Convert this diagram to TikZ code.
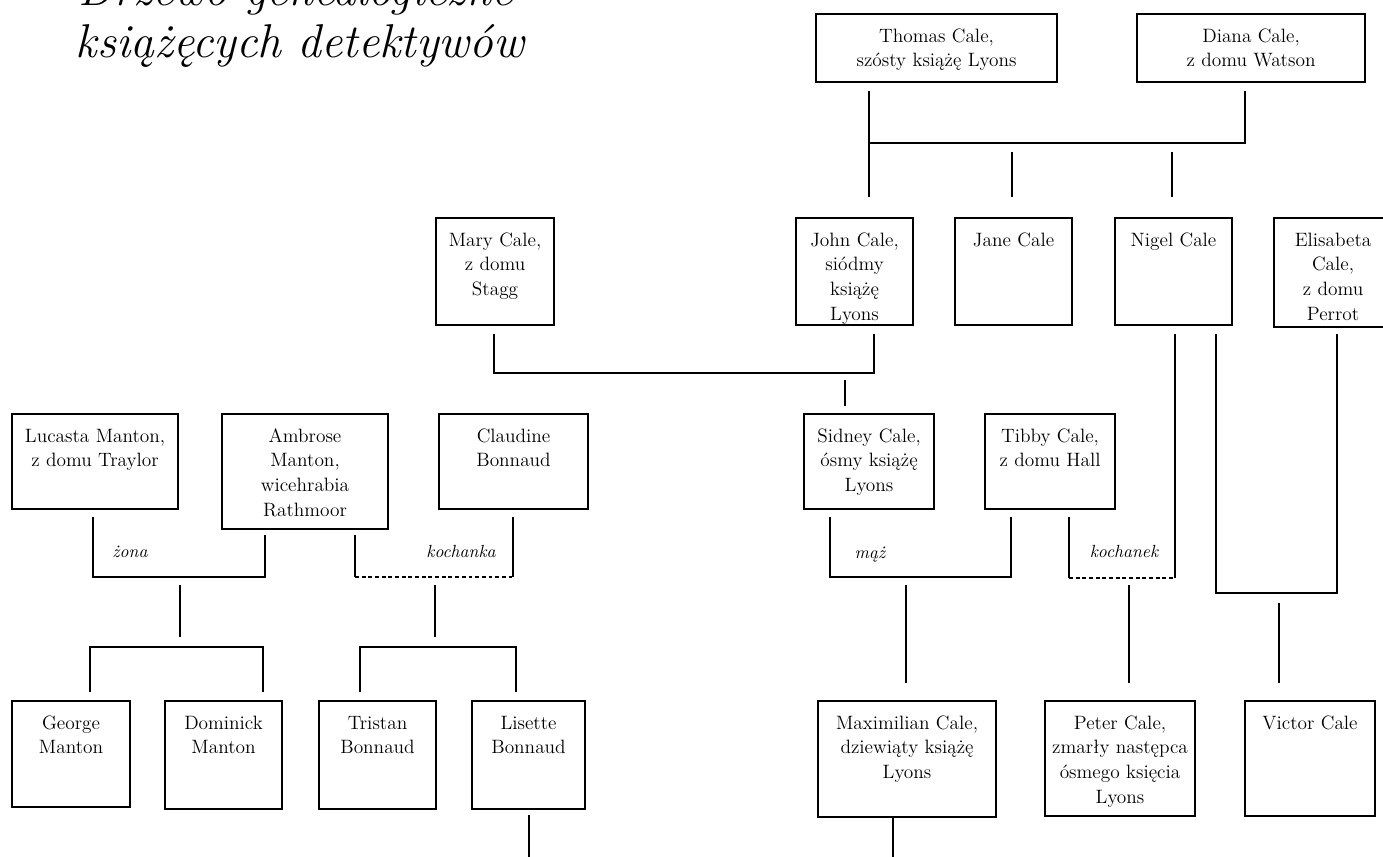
\documentclass[tikz,border=0pt]{standalone}
\usepackage{fontspec}
\usetikzlibrary{calc}

\newlength\pxu
\setlength\pxu{0.02cm}
% box contents: width, height (in px units), text
\newcommand{\card}[3]{\parbox[t][#2\pxu][t]{#1\pxu}{\centering\vspace*{0.22cm}\strut #3}}

\begin{document}
\begin{tikzpicture}[
 x=0.02cm, y=-0.02cm,
 line width=1pt,
 font=\fontsize{11}{14}\selectfont,
 person/.style={draw=black,line width=1.2pt,rectangle,inner sep=0pt,anchor=north west},
 tie/.style={draw=black,line width=1.1pt},
 affair/.style={draw=black,line width=1.1pt,dash pattern=on 2.2pt off 1.6pt},
 rel/.style={font=\fontsize{10}{12}\selectfont\itshape,inner sep=0pt,anchor=base},
 heading/.style={font=\fontsize{27}{31}\selectfont\itshape,inner sep=0pt,anchor=base}
]
\useasboundingbox (0,0) rectangle (1383,856);

\node (title1) [heading] at (296,5) {Drzewo genealogiczne};
\node (title2) [heading] at (300,57) {książęcych detektywów};

% generation 1
\node (thomas) [person] at (815,13) {\card{241}{68}{Thomas Cale,\\ szósty książę Lyons}};
\node (diana) [person] at (1136,13) {\card{228}{68}{Diana Cale,\\ z domu Watson}};

% generation 2
\node (mary) [person] at (435,217) {\card{118}{107}{Mary Cale,\\ z domu\\ Stagg}};
\node (john) [person] at (795,217) {\card{117}{107}{John Cale,\\ siódmy\\ książę\\ Lyons}};
\node (jane) [person] at (954,217) {\card{117}{107}{Jane Cale}};
\node (nigel) [person] at (1114,217) {\card{117}{107}{Nigel Cale}};
\node (elisabeta) [person] at (1273,217) {\card{118}{109}{Elisabeta\\ Cale,\\ z domu\\ Perrot}};

% generation 3
\node (lucasta) [person] at (11,413) {\card{166}{95}{Lucasta Manton,\\ z domu Traylor}};
\node (ambrose) [person] at (221,413) {\card{166}{115}{Ambrose\\ Manton,\\ wicehrabia\\ Rathmoor}};
\node (claudine) [person] at (438,413) {\card{149}{95}{Claudine\\ Bonnaud}};
\node (sidney) [person] at (803,413) {\card{130}{95}{Sidney Cale,\\ ósmy książę\\ Lyons}};
\node (tibby) [person] at (984,413) {\card{130}{95}{Tibby Cale,\\ z domu Hall}};

% generation 4
\node (george) [person] at (11,700) {\card{118}{106}{George\\ Manton}};
\node (dominick) [person] at (164,700) {\card{117}{108}{Dominick\\ Manton}};
\node (tristan) [person] at (318,700) {\card{117}{108}{Tristan\\ Bonnaud}};
\node (lisette) [person] at (471,700) {\card{113}{108}{Lisette\\ Bonnaud}};
\node (maximilian) [person] at (817,700) {\card{178}{116}{Maximilian Cale,\\ dziewiąty książę\\ Lyons}};
\node (peter) [person] at (1044,700) {\card{150}{115}{Peter Cale,\\ zmarły następca\\ ósmego księcia\\ Lyons}};
\node (victor) [person] at (1244,700) {\card{130}{115}{Victor Cale}};

% Thomas + Diana
\coordinate (td) at (869,143);
\draw [tie] (869,91) -- (869,197);
\draw [tie] (td) -- (1245,143) -- (1245,91);
\draw [tie] (1012,152) -- (1012,197);
\draw [tie] (1172,152) -- (1172,197);

% Mary + John
\draw [tie] (494,334) -- (494,373) -- (874,373) -- (874,334);
\draw [tie] (845,380) -- (845,406);

% Nigel + Elisabeta
\draw [tie] (1216,334) -- (1216,593) -- (1337,593) -- (1337,334);
\draw [tie] (1279,603) -- (1279,683);

% Lucasta + Ambrose
\draw [tie] (93,517) -- (93,577) -- (265,577) -- (265,535);
\node (zona) [rel] at (130,557) {żona};
\draw [tie] (180,585) -- (180,637);
\draw [tie] (90,692) -- (90,647) -- (263,647) -- (263,692);

% Ambrose + Claudine
\draw [tie] (355,535) -- (355,577);
\draw [affair] (355,577) -- (513,577);
\draw [tie] (513,577) -- (513,517);
\node (kochanka) [rel] at (461,557) {kochanka};
\draw [tie] (435,585) -- (435,637);
\draw [tie] (360,692) -- (360,647) -- (516,647) -- (516,692);

% Sidney + Tibby
\draw [tie] (830,517) -- (830,577) -- (1011,577) -- (1011,517);
\node (maz) [rel] at (870,558) {mąż};
\draw [tie] (906,585) -- (906,683);

% Tibby + Nigel
\draw [tie] (1069,517) -- (1069,578);
\draw [affair] (1069,578) -- (1175,578);
\draw [tie] (1175,578) -- (1175,334);
\node (kochanek) [rel] at (1124,557) {kochanek};
\draw [tie] (1129,585) -- (1129,683);

% lines running off the page
\draw [tie] (529,815) -- (529,860);
\draw [tie] (893,816) -- (893,860);
\end{tikzpicture}
\end{document}
